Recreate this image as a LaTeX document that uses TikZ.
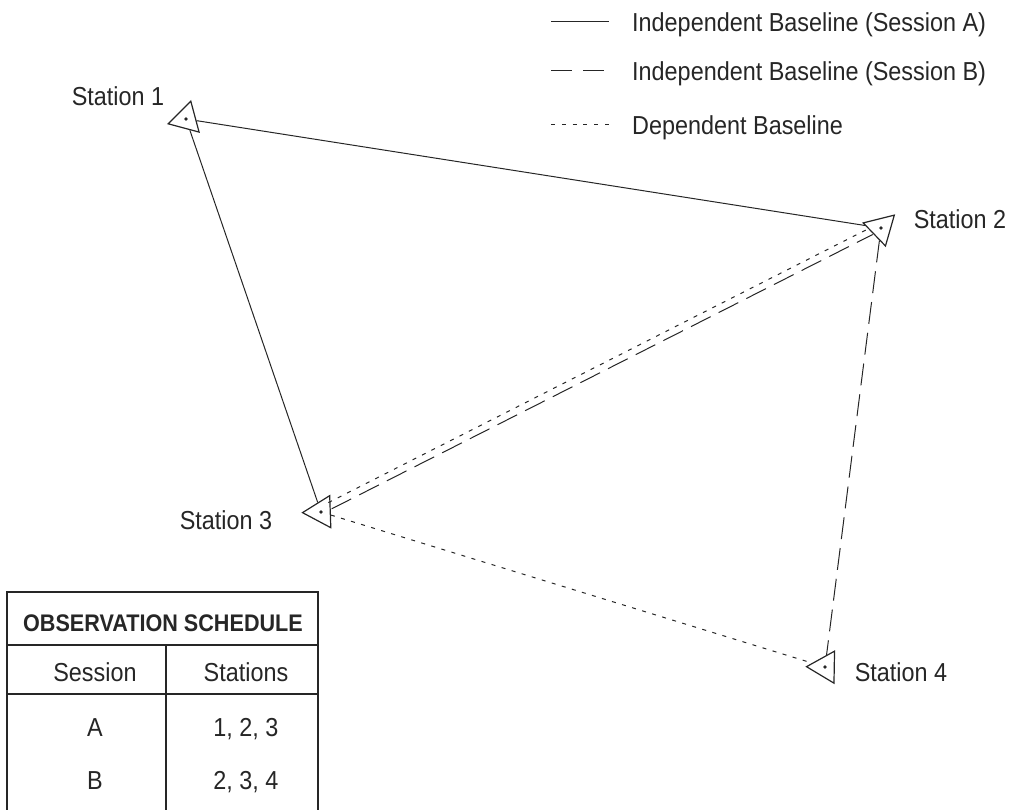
\documentclass[tikz,border=0pt]{standalone}
\usepackage{fontspec}
\setmainfont{Liberation Sans}[FakeStretch=0.9]
\usetikzlibrary{shapes.geometric}

\tikzset{
  station/.style={regular polygon, regular polygon sides=3, draw, minimum size=37pt, inner sep=0pt, line width=1.2pt},
  txt/.style={font=\fontsize{26}{31}\selectfont, inner sep=0pt},
  hdr/.style={font=\fontsize{24}{29}\selectfont\bfseries, inner sep=0pt},
  baseA/.style={line width=1pt},
  baseB/.style={line width=1pt, dash pattern=on 22pt off 9pt},
  baseDep/.style={line width=1pt, dash pattern=on 4pt off 6.5pt},
}

\begin{document}
\begin{tikzpicture}[x=1pt, y=-1pt, black!85]
    \useasboundingbox (0,0) rectangle (1011,810);

    % Draw stations
    \node[station, rotate=105] (s1) at (186,119) {};
    \node[station, rotate=74] (s2) at (881,228) {};
    \node[station, rotate=92] (s3) at (321,512) {};
    \node[station, rotate=89] (s4) at (825,667) {};
    \foreach \s in {s1,s2,s3,s4}
        \fill (\s) circle (1.8pt);

    % Station labels
    \node[txt] (l1) at (118,96) {Station 1};
    \node[txt] (l2) at (960,219) {Station 2};
    \node[txt] (l3) at (226,520) {Station 3};
    \node[txt] (l4) at (901,672) {Station 4};

    % Draw baselines
    \draw[baseA] (s1) -- (s2);
    \draw[baseA] (s1) -- (s3);
    \draw[baseDep, transform canvas={shift={(-2.3pt,4.5pt)}}] (s3) -- (s2);
    \draw[baseB, transform canvas={shift={(0.9pt,-1.8pt)}}] (s3) -- (s2);
    \draw[baseDep] (s3) -- (s4);
    \draw[baseB] (s2) -- (s4);

    % Legend
    \coordinate (ka0) at (551,22);  \coordinate (ka1) at (609,22);
    \coordinate (kb0) at (551,71);  \coordinate (kb1) at (609,71);
    \coordinate (kc0) at (551,125); \coordinate (kc1) at (609,125);
    \draw[baseA] (ka0) -- (ka1);
    \draw[baseB, dash pattern=on 21pt off 11pt] (kb0) -- (kb1);
    \draw[baseDep, dash pattern=on 4pt off 6.8pt] (kc0) -- (kc1);
    \node[txt, anchor=base west] (ka) at (632,31.5) {Independent Baseline (Session A)};
    \node[txt, anchor=base west] (kb) at (632,80.5) {Independent Baseline (Session B)};
    \node[txt, anchor=base west] (kc) at (632,134.5) {Dependent Baseline};

    % Observation schedule
    \draw[line width=1.2pt] (7,810) |- (318,592) -- (318,810);
    \draw[line width=1.2pt] (7,645) -- (318,645);
    \draw[line width=1.2pt] (7,694) -- (318,694);
    \draw[line width=1.2pt] (166,645) -- (166,810);
    \node[hdr, anchor=base] (th) at (163,631.5) {OBSERVATION SCHEDULE};
    \node[txt, anchor=base] (tc1) at (95,681) {Session};
    \node[txt, anchor=base] (tc2) at (246,681) {Stations};
    \node[txt, anchor=base] (ta1) at (95,736) {A};
    \node[txt, anchor=base] (ta2) at (246,736) {1, 2, 3};
    \node[txt, anchor=base] (tb1) at (95,789) {B};
    \node[txt, anchor=base] (tb2) at (246,789) {2, 3, 4};
\end{tikzpicture}
\end{document}
